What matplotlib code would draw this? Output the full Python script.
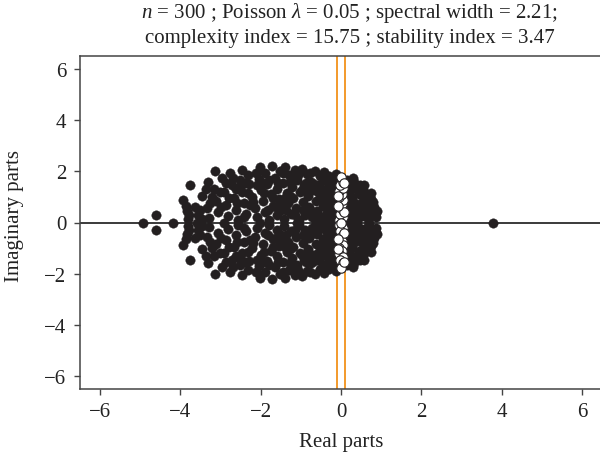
import numpy as np
import matplotlib
matplotlib.use("Agg")
import matplotlib.pyplot as plt

plt.rcParams['font.family'] = ['Liberation Serif', 'DejaVu Serif']
plt.rcParams['mathtext.fontset'] = 'custom'
plt.rcParams['mathtext.rm'] = 'Liberation Serif'
plt.rcParams['mathtext.it'] = 'Liberation Serif:italic'

# Eigenvalues: real parts and positive imaginary parts (conjugate pairs mirrored)
pair_re = [
    -4.59, -3.92, -3.83, -3.80, -3.75, -3.62, -3.55,
    -3.46, -3.30, -3.32, -3.28, -3.12, -3.15, -3.10, -3.05, -3.20,
    -2.95, -2.90, -2.85, -2.80, -2.75, -2.70, -2.65, -2.60, -2.55, -2.52,
    -2.45, -2.45, -2.40, -2.35, -2.30, -2.28, -2.20, -2.15, -2.10, -2.05, -2.02, -2.00,
    -1.95, -1.90, -1.88, -1.85, -1.80, -1.75, -1.72, -1.70, -1.65, -1.60, -1.58, -1.55, -1.52,
    -1.48, -1.45, -1.42, -1.40, -1.35, -1.32, -1.30, -1.25, -1.22, -1.20, -1.15, -1.12, -1.10, -1.05, -1.02,
    -0.98, -0.95, -0.92, -0.90, -0.85, -0.82, -0.80, -0.75, -0.72, -0.70, -0.65, -0.62, -0.60, -0.55, -0.52, -0.50,
    -0.48, -0.45, -0.42, -0.40, -0.38, -0.35, -0.32, -0.30, -0.28, -0.25, -0.22, -0.20, -0.18, -0.15, -0.14, -0.12, -0.12,
    -0.05, 0.04, -0.03, 0.05, -0.06, 0.02, 0.06, -0.04, 0.03, -0.05, 0.05, -0.02, 0.04, 0.00,
    0.08, -0.08, 0.07, -0.07,
    0.12, 0.14, 0.15, 0.18, 0.20, 0.22, 0.25, 0.28, 0.30, 0.32, 0.35, 0.38, 0.40, 0.42, 0.45, 0.48,
    0.50, 0.52, 0.55, 0.58, 0.60, 0.65, 0.68, 0.70, 0.75, 0.78, 0.82, 0.88, 0.90,
    -2.62, -2.38, -2.18, -1.98, -1.62, -1.38, -1.18, -0.88, -0.68, -0.58, -0.36, -0.26, 0.24, 0.36, 0.62, 0.72,
    -2.85, -2.78, -2.68, -2.58, -2.48, -2.42, -2.32, -2.25, -2.12, -2.08, -1.92, -1.82, -1.78, -1.68,
    -1.56, -1.50, -1.44, -1.36, -1.28, -1.26, -1.14, -1.08, -0.96, -0.94, -0.86, -0.78, -0.76, -0.66,
    -0.56, -0.54, -0.46, -0.44, -0.34, -0.30, -0.24, -0.20, -0.16, -0.13, 0.16, 0.18, 0.26, 0.30,
    0.34, 0.44, 0.46, 0.54, 0.56, 0.64, 0.74, 0.80, 0.86,
    -3.85, -3.78, -3.50, -3.45, -3.25, -3.00, -2.98, -3.35,
]
pair_im = [
    0.31, 0.86, 0.45, 0.15, 1.47, 0.62, 0.30,
    1.05, 1.57, 0.55, 0.18, 2.02, 1.30, 0.85, 0.40, 1.00,
    1.75, 1.20, 0.70, 0.25, 1.95, 1.45, 0.95, 0.50, 0.10, 1.65,
    2.05, 1.20, 0.75, 0.35, 1.85, 1.50, 1.00, 0.55, 0.20, 1.70, 2.15, 1.25,
    0.85, 0.40, 1.95, 1.50, 0.10, 1.10, 2.22, 0.65, 1.75, 0.30, 1.30, 0.90, 2.00,
    0.50, 1.55, 0.15, 2.15, 1.15, 0.75, 1.85, 0.35, 1.40, 0.95, 2.05, 0.55, 1.65, 0.10, 1.20,
    2.10, 0.80, 1.45, 0.30, 1.90, 1.05, 0.60, 1.60, 0.20, 1.25, 2.02, 0.85, 0.45, 1.45, 1.80, 1.05,
    0.15, 0.65, 1.98, 1.25, 0.35, 1.60, 0.90, 1.80, 0.05, 0.50, 1.40, 1.10, 0.75, 1.65, 0.25, 1.90, 1.00,
    0.08, 0.20, 0.33, 0.47, 0.60, 0.72, 0.86, 0.98, 1.10, 1.22, 1.35, 1.47, 1.60, 1.78,
    0.40, 1.02, 1.55, 0.66,
    0.40, 1.20, 1.65, 0.80, 0.10, 1.45, 0.55, 1.00, 0.25, 1.60, 0.75, 1.30, 0.05, 0.45, 1.10, 1.45,
    0.70, 0.25, 1.25, 0.95, 0.45, 1.10, 0.15, 0.65, 0.90, 0.35, 0.60, 0.20, 0.45,
    1.30, 1.55, 0.80, 1.60, 0.60, 0.95, 1.75, 1.30, 0.40, 1.20, 0.60, 1.25, 1.35, 0.10, 0.80, 0.95,
    1.55, 0.95, 1.75, 0.75, 1.45, 0.20, 1.15, 0.70, 1.95, 1.45, 1.15, 0.50, 1.65, 0.95,
    1.55, 0.70, 1.95, 0.50, 1.05, 1.60, 0.30, 1.85, 1.25, 0.50, 1.55, 0.40, 1.95, 1.50,
    0.25, 1.20, 0.95, 1.70, 0.15, 1.20, 0.70, 1.55, 0.45, 1.30, 0.60, 1.40, 0.85, 1.75,
    0.40, 1.30, 0.25, 0.85, 1.45, 0.55, 1.15, 0.80, 0.40,
    0.65, 0.30, 0.50, 0.15, 0.75, 1.20, 0.60, 1.30,
]
# Purely real eigenvalues
real_only = [-4.91, -4.17, -3.58, -2.92, -2.02, -1.10, -0.62, 0.00, 0.70, 3.79]

x_ticks = [-6, -4, -2, 0, 2, 4, 6]
y_ticks = [-6, -4, -2, 0, 2, 4, 6]
threshold = 0.1

re = np.concatenate([pair_re, pair_re, real_only])
im = np.concatenate([pair_im, -np.array(pair_im), np.zeros(len(real_only))])
near = np.abs(re) < threshold

W, H = 600, 460
fig = plt.figure(figsize=(W / 100, H / 100), dpi=100)
ax = fig.add_axes([79.5 / W, (H - 390) / H, 523 / W, 333 / H])
ax.set_xlim(-6.5, 6.5)
ax.set_ylim(-6.5, 6.5)

ink = '#231F20'
ax.axhline(0, color='#2b2b2b', lw=1.3, zorder=1)
for v in (-threshold, threshold):
    ax.axvline(v, color='#F39A2B', lw=1.4, zorder=1)

ax.scatter(re[~near], im[~near], s=46, color=ink, edgecolors=ink, linewidths=0.3, zorder=3)
ax.scatter(re[near], im[near], s=46, facecolors='white', edgecolors=ink, linewidths=0.8, zorder=4)

ax.set_xticks(x_ticks)
ax.set_yticks(y_ticks)
ax.tick_params(direction='out', length=4.5, width=1.0, color='#444444',
               labelsize=15, labelcolor='#222222', pad=5)
for s in ax.spines.values():
    s.set_color('#444444')
    s.set_linewidth(1.1)

fig.text(341 / W, 1 - 443 / H, 'Real parts', ha='center', va='center', fontsize=15, color='#222222')
fig.text(15 / W, 1 - 216 / H, 'Imaginary parts', ha='center', va='center', rotation=90,
         fontsize=15, color='#222222')
fig.text(350 / W, 1 - 13 / H, r'$n$ = 300 ; Poisson $\lambda$ = 0.05 ; spectral width = 2.21;',
         ha='center', va='center', fontsize=15, color='#222222')
fig.text(350 / W, 1 - 38 / H, 'complexity index = 15.75 ; stability index = 3.47',
         ha='center', va='center', fontsize=15, color='#222222')

fig.savefig('out.png', dpi=100)
